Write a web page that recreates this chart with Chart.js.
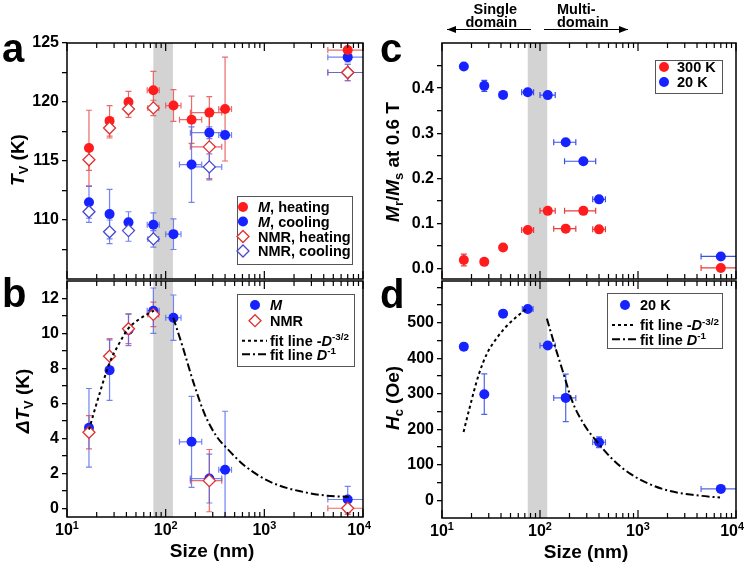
<!DOCTYPE html>
<html>
<head>
<meta charset="utf-8">
<title>Verwey transition vs particle size</title>
<script src="https://cdn.jsdelivr.net/npm/chart.js"></script>
<style>
  body { margin: 0; background: #fff; }
  #wrap { position: relative; width: 750px; height: 568px; }
  #wrap canvas { position: absolute; left: 0; top: 0; }
</style>
</head>
<body>
<div id="wrap">
  <canvas id="chartA" width="750" height="568"></canvas>
  <canvas id="chartB" width="750" height="568"></canvas>
  <canvas id="chartC" width="750" height="568"></canvas>
  <canvas id="chartD" width="750" height="568"></canvas>
</div>
<script>
// ==================== DATA ====================
// particle sizes (nm) and their horizontal error limits
const SIZES = [16.7, 27, 42, 75, 120, 183, 277, 400, 7000];
const SIZE_LO = [16.4, 25, 41.5, 65, 100, 138, 178, 345, 4400];
const SIZE_HI = [17.0, 29, 42.5, 86, 143, 232, 370, 465, 11000];
const NMR_SIZES = [16.7, 27, 42, 75, 277, 7000];
const NMR_LO = [16.4, 25, 41.5, 66, 178, 4400];
const NMR_HI = [17.0, 29, 42.5, 85, 370, 11000];
const D_SIZES = [16.7, 27, 42, 75, 120, 183, 400, 7000];
const D_LO = [16.4, 25.5, 41.5, 66, 100, 138, 345, 4400];
const D_HI = [17.0, 28.5, 42.5, 85, 143, 232, 465, 11000];

// shaded single/multi-domain boundary (nm)
const BAND = [75, 118.5];

// axis ticks
const X_MAJOR = [10, 100, 1000, 10000];
const A_Y_TICKS = [107.5, 110, 112.5, 115, 117.5, 120, 122.5, 125];
const A_Y_LABELS = [110, 115, 120, 125];
const B_Y_TICKS = [0, 1, 2, 3, 4, 5, 6, 7, 8, 9, 10, 11, 12];
const B_Y_LABELS = [0, 2, 4, 6, 8, 10, 12];
const C_Y_TICKS = [0, 0.05, 0.1, 0.15, 0.2, 0.25, 0.3, 0.35, 0.4, 0.45];
const C_Y_LABELS = [0, 0.1, 0.2, 0.3, 0.4];
const D_Y_TICKS = [0, 50, 100, 150, 200, 250, 300, 350, 400, 450, 500, 550, 600];
const D_Y_LABELS = [0, 100, 200, 300, 400, 500];

// panel a: T_V (K)
const A_MH_Y = [116.1, 118.4, 120.0, 121.0, 119.7, 118.5, 119.1, 119.4, 124.4];
const A_MH_ERR = [3.2, 1.3, 0.9, 1.6, 1.35, 2.0, 1.35, 4.4, 0.3];
const A_MC_Y = [111.5, 110.5, 109.8, 109.6, 108.8, 114.7, 117.4, 117.2, 123.8];
const A_MC_ERR = [1.35, 2.1, 0.9, 1.0, 1.3, 3.2, 0.5, 0.3, 0.4];
const A_NH_Y = [115.1, 117.8, 119.4, 119.5, 116.2, 122.5];
const A_NH_ERR = [0.9, 0.85, 0.7, 0.65, 2.7, 0.7];
const A_NC_Y = [110.7, 109.0, 109.1, 108.4, 114.5, 122.5];
const A_NC_ERR = [0.9, 1.0, 0.9, 0.7, 1.1, 0.7];

// panel b: delta T_V (K)
const B_M_Y = [4.6, 7.9, 10.2, 11.3, 10.9, 3.8, 1.7, 2.2, 0.5];
const B_M_ERR = [2.25, 1.73, 0.9, 1.3, 1.3, 2.6, 1.4, 3.35, 0.75];
const B_N_Y = [4.35, 8.7, 10.27, 11.09, 1.58, 0.0];
const B_N_ERR = [0.95, 1.0, 0.85, 0.7, 1.78, 0.35];
const B_FIT1_X = [16.7, 21.5, 27.2, 33, 41.7, 54.8, 76];
const B_FIT1_Y = [4.5, 6.6, 8.37, 9.32, 10.27, 10.84, 11.3];
const B_FIT2_X = [119.4, 150.7, 190.4, 250.8, 329, 415.6, 614, 906, 1339, 2314, 4314, 7166];
const B_FIT2_Y = [10.9, 9.13, 7.23, 5.33, 4.10, 3.44, 2.49, 1.82, 1.35, 0.97, 0.72, 0.65];

// panel c: Mr/Ms at 0.6 T
const C_20K_Y = [0.448, 0.405, 0.385, 0.391, 0.3845, 0.280, 0.238, 0.1535, 0.027];
const C_20K_ERR = [0.003, 0.012, 0.003, 0.003, 0.003, 0.003, 0.003, 0.004, 0.003];
const C_300K_Y = [0.019, 0.015, 0.047, 0.0856, 0.128, 0.0886, 0.128, 0.087, 0.0015];
const C_300K_ERR = [0.013, 0.004, 0.003, 0.003, 0.003, 0.003, 0.008, 0.003, 0.003];

// panel d: Hc (Oe) at 20 K
const D_HC = [433, 299, 526, 539, 436, 288.5, 163.5, 32];
const D_HC_ERR = [4, 57, 4, 4, 4, 67, 15, 4];
const D_FIT1_X = [16.6, 18.7, 23.6, 28.8, 36.4, 46, 58.2, 73.4];
const D_FIT1_Y = [192.6, 250, 352.4, 413.6, 458, 492, 518, 540];
const D_FIT2_X = [117.5, 142.9, 173.8, 211.3, 277.7, 395, 562, 830, 1327, 2122, 3970, 6870];
const D_FIT2_Y = [512, 432, 357, 282, 216, 160, 113, 75, 45, 26, 14, 7.5];

// ==================== STYLE ====================
const FONT = '"Liberation Sans", Arial, sans-serif';
const RED = "rgb(255,28,28)";
const BLUE = "rgb(22,34,255)";
const RED_ERR = "rgba(232,80,80,0.85)";
const BLUE_ERR = "rgba(80,100,235,0.8)";
const RED_DIA = "rgb(226,48,48)";
const BLUE_DIA = "rgb(72,72,205)";
const BAND_COLOR = "rgb(211,211,211)";
const Y_AXIS_W = 60;
const CAP = 3;

// ==================== HELPERS ====================
function font(size, italic) {
  return `${italic ? "italic " : ""}bold ${size}px ${FONT}`;
}

// parts: [{t, i, sub, sup}]
function richWidth(ctx, parts, size) {
  let w = 0;
  parts.forEach((p) => {
    ctx.font = font(p.sub || p.sup ? size * 0.68 : size, p.i);
    w += ctx.measureText(p.t).width;
  });
  return w;
}

function drawRich(ctx, parts, x, y, size, align) {
  const w = richWidth(ctx, parts, size);
  let cx = align === "center" ? x - w / 2 : align === "right" ? x - w : x;
  ctx.textAlign = "left";
  ctx.textBaseline = "alphabetic";
  ctx.fillStyle = "#000";
  parts.forEach((p) => {
    const s = p.sub || p.sup ? size * 0.68 : size;
    ctx.font = font(s, p.i);
    const dy = p.sub ? size * 0.22 : p.sup ? -size * 0.38 : 0;
    ctx.fillText(p.t, cx, y + dy);
    cx += ctx.measureText(p.t).width;
  });
  return w;
}

function points(xs, ys, errs, lo, hi) {
  return xs.map((x, i) => ({
    x: x,
    y: ys[i],
    e: errs ? errs[i] : 0,
    lo: lo ? lo[i] : null,
    hi: hi ? hi[i] : null,
  }));
}

function dotSet(data, color, errColor) {
  return {
    data: data,
    pointStyle: "circle",
    pointRadius: 5,
    backgroundColor: color,
    borderColor: color,
    borderWidth: 0,
    errColor: errColor,
  };
}

function diamondSet(data, color, errColor) {
  return {
    data: data,
    pointStyle: "rectRot",
    pointRadius: 6,
    backgroundColor: "#fff",
    borderColor: color,
    borderWidth: 1.3,
    errColor: errColor,
  };
}

function fitSet(xs, ys, dash) {
  return {
    type: "line",
    data: xs.map((x, i) => ({ x: x, y: ys[i] })),
    borderColor: "#000",
    borderWidth: 2,
    borderDash: dash,
    pointRadius: 0,
    fill: false,
    cubicInterpolationMode: "monotone",
  };
}

function drawMarker(ctx, kind, color, x, y) {
  ctx.save();
  if (kind === "dot") {
    ctx.fillStyle = color;
    ctx.beginPath();
    ctx.arc(x, y, 5, 0, Math.PI * 2);
    ctx.fill();
  } else if (kind === "dia") {
    ctx.fillStyle = "#fff";
    ctx.strokeStyle = color;
    ctx.lineWidth = 1.3;
    ctx.beginPath();
    ctx.moveTo(x, y - 6);
    ctx.lineTo(x + 6, y);
    ctx.lineTo(x, y + 6);
    ctx.lineTo(x - 6, y);
    ctx.closePath();
    ctx.fill();
    ctx.stroke();
  }
  ctx.restore();
}

function drawLegend(ctx, lg) {
  ctx.save();
  ctx.fillStyle = "#fff";
  ctx.fillRect(lg.box[0], lg.box[1], lg.box[2] - lg.box[0], lg.box[3] - lg.box[1]);
  ctx.strokeStyle = "#555";
  ctx.lineWidth = 1;
  ctx.strokeRect(lg.box[0] + 0.5, lg.box[1] + 0.5, lg.box[2] - lg.box[0], lg.box[3] - lg.box[1]);
  lg.items.forEach((it, i) => {
    const y = lg.rows[i];
    if (it.kind === "line") {
      ctx.strokeStyle = "#000";
      ctx.lineWidth = 2;
      ctx.setLineDash(it.dash);
      ctx.beginPath();
      ctx.moveTo(lg.lineX[0], y);
      ctx.lineTo(lg.lineX[1], y);
      ctx.stroke();
      ctx.setLineDash([]);
    } else {
      drawMarker(ctx, it.kind, it.color, lg.markerX, y);
    }
    drawRich(ctx, it.parts, lg.textX, y + 5.2, 14.5, "left");
  });
  ctx.restore();
}

function arrow(ctx, x1, x2, y, headLeft) {
  ctx.save();
  ctx.strokeStyle = "#000";
  ctx.fillStyle = "#000";
  ctx.lineWidth = 1.2;
  ctx.beginPath();
  ctx.moveTo(x1, y);
  ctx.lineTo(x2, y);
  ctx.stroke();
  const hx = headLeft ? x1 : x2;
  const d = headLeft ? 1 : -1;
  ctx.beginPath();
  ctx.moveTo(hx, y);
  ctx.lineTo(hx + d * 9, y - 3.5);
  ctx.lineTo(hx + d * 9, y + 3.5);
  ctx.closePath();
  ctx.fill();
  ctx.restore();
}

function drawDomainNote(ctx) {
  ctx.save();
  ctx.fillStyle = "#000";
  ctx.font = font(14.5, false);
  ctx.textAlign = "right";
  ctx.fillText("Single", 517, 14);
  ctx.fillText("domain", 517, 26.5);
  ctx.textAlign = "left";
  ctx.fillText("Multi-", 557, 14);
  ctx.fillText("domain", 557, 26.5);
  ctx.restore();
  arrow(ctx, 447, 531, 29.5, true);
  arrow(ctx, 544, 628, 29.5, false);
}

// ==================== PANEL PLUGIN ====================
function panelPlugin(cfg) {
  return {
    id: "panel" + cfg.letter,
    beforeDatasetsDraw(chart) {
      const { ctx, chartArea: a } = chart;
      const xs = chart.scales.x;
      const ys = chart.scales.y;
      ctx.save();
      ctx.beginPath();
      ctx.rect(a.left, a.top, a.right - a.left, a.bottom - a.top);
      ctx.clip();

      // shaded band
      const b1 = xs.getPixelForValue(BAND[0]);
      const b2 = xs.getPixelForValue(BAND[1]);
      ctx.fillStyle = BAND_COLOR;
      ctx.fillRect(b1, a.top, b2 - b1, a.bottom - a.top);

      // error bars
      chart.data.datasets.forEach((ds) => {
        if (!ds.errColor) return;
        ctx.strokeStyle = ds.errColor;
        ctx.lineWidth = 1.2;
        ds.data.forEach((p) => {
          const px = xs.getPixelForValue(p.x);
          const py = ys.getPixelForValue(p.y);
          ctx.beginPath();
          if (p.e) {
            const y1 = ys.getPixelForValue(p.y + p.e);
            const y2 = ys.getPixelForValue(p.y - p.e);
            ctx.moveTo(px, y1);
            ctx.lineTo(px, y2);
            ctx.moveTo(px - CAP, y1);
            ctx.lineTo(px + CAP, y1);
            ctx.moveTo(px - CAP, y2);
            ctx.lineTo(px + CAP, y2);
          }
          if (p.lo) {
            const x1 = xs.getPixelForValue(p.lo);
            const x2 = xs.getPixelForValue(p.hi);
            ctx.moveTo(x1, py);
            ctx.lineTo(x2, py);
            ctx.moveTo(x1, py - CAP);
            ctx.lineTo(x1, py + CAP);
            ctx.moveTo(x2, py - CAP);
            ctx.lineTo(x2, py + CAP);
          }
          ctx.stroke();
        });
      });
      ctx.restore();
    },
    afterDraw(chart) {
      const { ctx, chartArea: a } = chart;
      const xs = chart.scales.x;
      ctx.save();

      // frame
      ctx.strokeStyle = "#000";
      ctx.lineWidth = 1.5;
      ctx.strokeRect(a.left, a.top, a.right - a.left, a.bottom - a.top);

      // log ticks on top and bottom, pointing inwards
      ctx.lineWidth = 1.2;
      ctx.beginPath();
      X_MAJOR.forEach((d, n) => {
        for (let k = 1; k <= 9; k++) {
          if (n === X_MAJOR.length - 1 && k > 1) break;
          const px = xs.getPixelForValue(d * k);
          const len = k === 1 ? 8 : 5;
          ctx.moveTo(px, a.bottom);
          ctx.lineTo(px, a.bottom - len);
          ctx.moveTo(px, a.top);
          ctx.lineTo(px, a.top + len);
        }
      });
      ctx.stroke();

      // x tick labels and title
      if (cfg.xLabelY) {
        X_MAJOR.forEach((v) => {
          const parts = [{ t: "10" }, { t: String(Math.round(Math.log10(v))), sup: true }];
          const w = richWidth(ctx, parts, 16);
          const cx = Math.min(xs.getPixelForValue(v), a.right + 8 - w / 2);
          drawRich(ctx, parts, cx, cfg.xLabelY, 16, "center");
        });
        drawRich(ctx, [{ t: "Size (nm)" }], (a.left + a.right) / 2 - 3, cfg.xLabelY + 22, 19, "center");
      }

      // rotated y title
      ctx.save();
      ctx.translate(cfg.titleX, cfg.titleY);
      ctx.rotate(-Math.PI / 2);
      drawRich(ctx, cfg.title, 0, 6.8, 19, "center");
      ctx.restore();

      // panel letter
      ctx.fillStyle = "#000";
      ctx.font = font(40, false);
      ctx.textAlign = "left";
      ctx.textBaseline = "alphabetic";
      ctx.fillText(cfg.letter, cfg.letterPos[0], cfg.letterPos[1]);

      drawLegend(ctx, cfg.legend);
      if (cfg.domainNote) drawDomainNote(ctx);
      ctx.restore();
    },
  };
}

function makePanel(id, cfg) {
  const area = cfg.area;
  return new Chart(document.getElementById(id), {
    type: "scatter",
    data: { datasets: cfg.datasets },
    options: {
      responsive: false,
      animation: false,
      devicePixelRatio: 1,
      events: [],
      layout: {
        padding: {
          left: area.l - Y_AXIS_W,
          top: area.t,
          right: 750 - area.r,
          bottom: 568 - area.b,
        },
      },
      plugins: {
        legend: { display: false },
        tooltip: { enabled: false },
      },
      scales: {
        x: {
          type: "logarithmic",
          min: 10,
          max: 10000,
          ticks: { display: false },
          grid: { display: false },
          border: { display: false },
          afterFit: (s) => {
            s.height = 0;
          },
        },
        y: {
          type: "linear",
          min: cfg.yMin,
          max: cfg.yMax,
          afterBuildTicks: (s) => {
            s.ticks = cfg.yTicks.map((v) => ({ value: v }));
          },
          ticks: {
            autoSkip: false,
            padding: 3,
            color: "#000",
            font: { family: FONT, size: 16, weight: "bold" },
            callback: (v) => (cfg.yLabels.includes(v) ? cfg.yFmt(v) : ""),
          },
          grid: {
            drawOnChartArea: false,
            drawTicks: true,
            tickLength: 5,
            color: "#000",
            lineWidth: 1.3,
          },
          border: { display: false },
          afterFit: (s) => {
            s.width = Y_AXIS_W;
          },
        },
      },
    },
    plugins: [panelPlugin(cfg)],
  });
}

// ==================== PANELS ====================
makePanel("chartA", {
  letter: "a",
  letterPos: [2, 62],
  area: { l: 67, t: 43, r: 363, b: 279 },
  yMin: 105,
  yMax: 125,
  yTicks: A_Y_TICKS,
  yLabels: A_Y_LABELS,
  yFmt: (v) => String(v),
  title: [{ t: "T", i: true }, { t: "V", sub: true }, { t: " (K)" }],
  titleX: 17,
  titleY: 160,
  datasets: [
    diamondSet(points(NMR_SIZES, A_NH_Y, A_NH_ERR, NMR_LO, NMR_HI), RED_DIA, RED_ERR),
    diamondSet(points(NMR_SIZES, A_NC_Y, A_NC_ERR, NMR_LO, NMR_HI), BLUE_DIA, BLUE_ERR),
    dotSet(points(SIZES, A_MH_Y, A_MH_ERR, SIZE_LO, SIZE_HI), RED, RED_ERR),
    dotSet(points(SIZES, A_MC_Y, A_MC_ERR, SIZE_LO, SIZE_HI), BLUE, BLUE_ERR),
  ],
  legend: {
    box: [237, 196, 352, 264],
    rows: [207, 221.5, 236.5, 251],
    markerX: 243,
    textX: 258,
    items: [
      { kind: "dot", color: RED, parts: [{ t: "M", i: true }, { t: ", heating" }] },
      { kind: "dot", color: BLUE, parts: [{ t: "M", i: true }, { t: ", cooling" }] },
      { kind: "dia", color: RED_DIA, parts: [{ t: "NMR, heating" }] },
      { kind: "dia", color: BLUE_DIA, parts: [{ t: "NMR, cooling" }] },
    ],
  },
});

makePanel("chartB", {
  letter: "b",
  letterPos: [2, 307],
  area: { l: 67, t: 281, r: 363, b: 517 },
  yMin: -0.5,
  yMax: 13,
  yTicks: B_Y_TICKS,
  yLabels: B_Y_LABELS,
  yFmt: (v) => String(v),
  title: [{ t: "\u0394T", i: true }, { t: "V", sub: true }, { t: " (K)" }],
  titleX: 22,
  titleY: 401,
  xLabelY: 535,
  datasets: [
    fitSet(B_FIT1_X, B_FIT1_Y, [3, 3]),
    fitSet(B_FIT2_X, B_FIT2_Y, [8, 3, 2, 3]),
    diamondSet(points(NMR_SIZES, B_N_Y, B_N_ERR, NMR_LO, NMR_HI), RED_DIA, RED_ERR),
    dotSet(points(SIZES, B_M_Y, B_M_ERR, SIZE_LO, SIZE_HI), BLUE, BLUE_ERR),
  ],
  legend: {
    box: [237, 294, 354, 366],
    rows: [305, 320.7, 340.7, 354.3],
    markerX: 255,
    textX: 270,
    lineX: [242, 267],
    items: [
      { kind: "dot", color: BLUE, parts: [{ t: "M", i: true }] },
      { kind: "dia", color: RED_DIA, parts: [{ t: "NMR" }] },
      { kind: "line", dash: [3, 3], parts: [{ t: "fit line -" }, { t: "D", i: true }, { t: "-3/2", sup: true }] },
      { kind: "line", dash: [8, 3, 2, 3], parts: [{ t: "fit line " }, { t: "D", i: true }, { t: "-1", sup: true }] },
    ],
  },
});

makePanel("chartC", {
  letter: "c",
  letterPos: [380, 62],
  area: { l: 442, t: 43, r: 736, b: 279 },
  yMin: -0.023,
  yMax: 0.5,
  yTicks: C_Y_TICKS,
  yLabels: C_Y_LABELS,
  yFmt: (v) => v.toFixed(1),
  title: [
    { t: "M", i: true }, { t: "r", sub: true }, { t: "/" },
    { t: "M", i: true }, { t: "s", sub: true }, { t: " at 0.6 T" },
  ],
  titleX: 392,
  titleY: 162,
  domainNote: true,
  datasets: [
    dotSet(points(SIZES, C_300K_Y, C_300K_ERR, SIZE_LO, SIZE_HI), RED, "rgb(232,60,60)"),
    dotSet(points(SIZES, C_20K_Y, C_20K_ERR, SIZE_LO, SIZE_HI), BLUE, "rgb(60,80,232)"),
  ],
  legend: {
    box: [655, 60, 722, 93],
    rows: [67, 82],
    markerX: 664,
    textX: 677,
    items: [
      { kind: "dot", color: RED, parts: [{ t: "300 K" }] },
      { kind: "dot", color: BLUE, parts: [{ t: "20 K" }] },
    ],
  },
});

makePanel("chartD", {
  letter: "d",
  letterPos: [380, 308],
  area: { l: 442, t: 281, r: 736, b: 518 },
  yMin: -50,
  yMax: 618,
  yTicks: D_Y_TICKS,
  yLabels: D_Y_LABELS,
  yFmt: (v) => String(v),
  title: [{ t: "H", i: true }, { t: "c", sub: true }, { t: " (Oe)" }],
  titleX: 392,
  titleY: 398,
  xLabelY: 536,
  datasets: [
    fitSet(D_FIT1_X, D_FIT1_Y, [3, 3]),
    fitSet(D_FIT2_X, D_FIT2_Y, [8, 3, 2, 3]),
    dotSet(points(D_SIZES, D_HC, D_HC_ERR, D_LO, D_HI), BLUE, "rgb(80,100,232)"),
  ],
  legend: {
    box: [607, 293, 722, 348],
    rows: [305, 325, 339.3],
    markerX: 625,
    textX: 640,
    lineX: [612, 636],
    items: [
      { kind: "dot", color: BLUE, parts: [{ t: "20 K" }] },
      { kind: "line", dash: [3, 3], parts: [{ t: "fit line -" }, { t: "D", i: true }, { t: "-3/2", sup: true }] },
      { kind: "line", dash: [8, 3, 2, 3], parts: [{ t: "fit line " }, { t: "D", i: true }, { t: "-1", sup: true }] },
    ],
  },
});
</script>
</body>
</html>
